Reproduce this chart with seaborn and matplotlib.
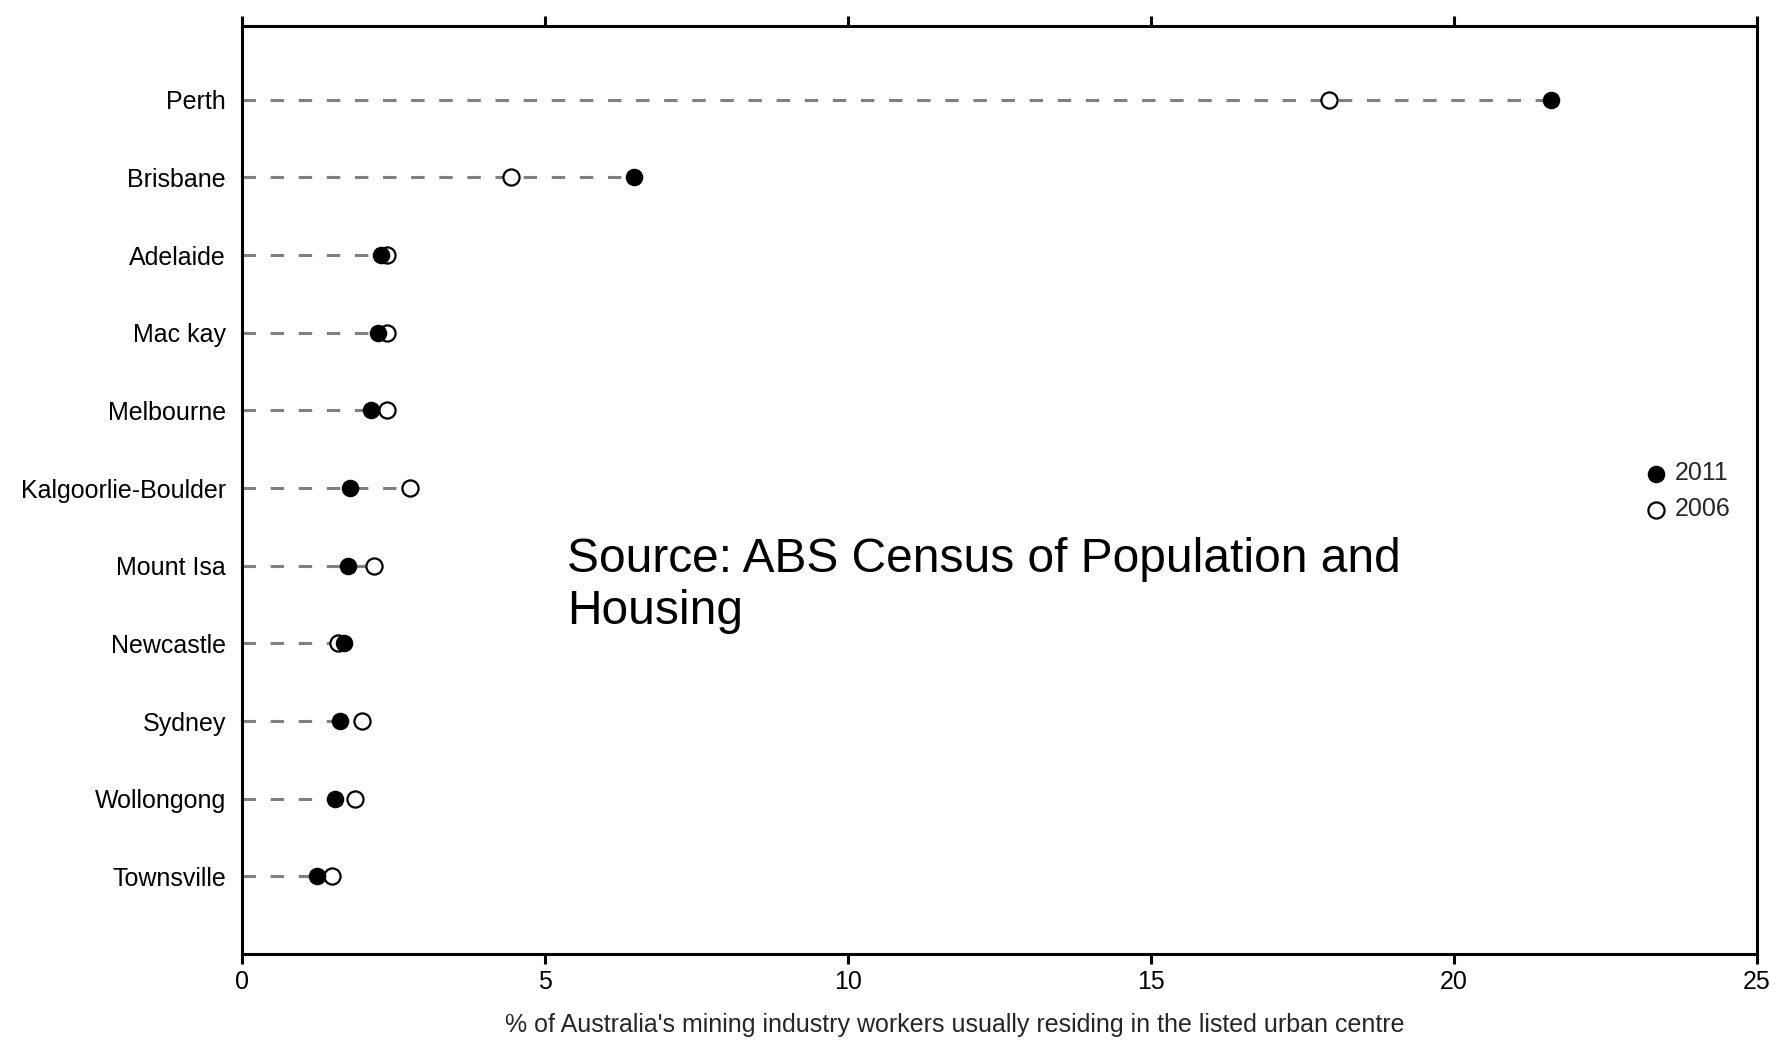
import pandas as pd
import matplotlib
matplotlib.use('Agg')
import matplotlib.pyplot as plt
import seaborn as sns

cities = ['Perth', 'Brisbane', 'Adelaide', 'Mac kay', 'Melbourne',
          'Kalgoorlie-Boulder', 'Mount Isa', 'Newcastle', 'Sydney',
          'Wollongong', 'Townsville']
v2011 = [21.60, 6.47, 2.29, 2.24, 2.13, 1.79, 1.75, 1.68, 1.62, 1.53, 1.24]
v2006 = [17.94, 4.44, 2.39, 2.39, 2.39, 2.78, 2.18, 1.59, 1.98, 1.87, 1.48]
years = ['2011', '2006']
xticks = [0, 5, 10, 15, 20, 25]
xlabel = "% of Australia's mining industry workers usually residing in the listed urban centre"
source = 'Source: ABS Census of Population and\nHousing'

df = pd.DataFrame({'city': cities, '2011': v2011, '2006': v2006})
df['hi'] = df[['2011', '2006']].max(axis=1)

sns.set_style('white')
plt.rcParams['font.family'] = ['Liberation Sans', 'DejaVu Sans']

fig = plt.figure(figsize=(17.75, 10.4), dpi=100)
ax = fig.add_axes([242 / 1775, 1 - 954 / 1040, (1757 - 242) / 1775, (954 - 26) / 1040])

# open markers first, filled ones sit on top
sns.scatterplot(data=df, x='2006', y='city', ax=ax, marker='o', s=135,
                color='white', edgecolor='black', linewidth=1.6, zorder=3)
sns.scatterplot(data=df, x='2011', y='city', ax=ax, marker='o', s=135,
                color='black', edgecolor='black', linewidth=1.0, zorder=4)
ax.hlines(df['city'], 0, df['hi'], colors='#808080', linewidth=2.2,
          linestyles=[(0, (4.4, 4.8))], zorder=1)

ax.set_xlim(0, 25)
ax.set_ylim(11.0, -0.95)
ax.set_xticks(xticks)
ax.set_xticklabels([str(t) for t in xticks])
ax.set_ylabel('')
ax.set_xlabel(xlabel, fontsize=18)
ax.xaxis.set_label_coords(0.4706, -0.064)

for s in ax.spines.values():
    s.set_visible(True)
    s.set_color('black')
    s.set_linewidth(2.2)

ax.tick_params(axis='x', which='both', bottom=True, top=True, direction='out',
               length=7.5, width=2.2, color='black', labelsize=18, pad=4,
               labeltop=False)
ax.tick_params(axis='y', left=False, labelsize=18, pad=8)
for lab in ax.get_xticklabels() + ax.get_yticklabels():
    lab.set_color('black')

colls = ax.collections
ax.legend([colls[1], colls[0]], years, loc='center left',
          bbox_to_anchor=(0.9259, 0.5276), bbox_transform=fig.transFigure,
          frameon=False, fontsize=18, handlelength=1.0, handletextpad=0.26,
          labelspacing=0.48, borderpad=0, borderaxespad=0)

fig.text(567 / 1775, 1 - 537 / 1040, source, fontsize=34.5, linespacing=1.2,
         va='top', ha='left', color='black')

fig.savefig('out.png', dpi=100, facecolor='white')
